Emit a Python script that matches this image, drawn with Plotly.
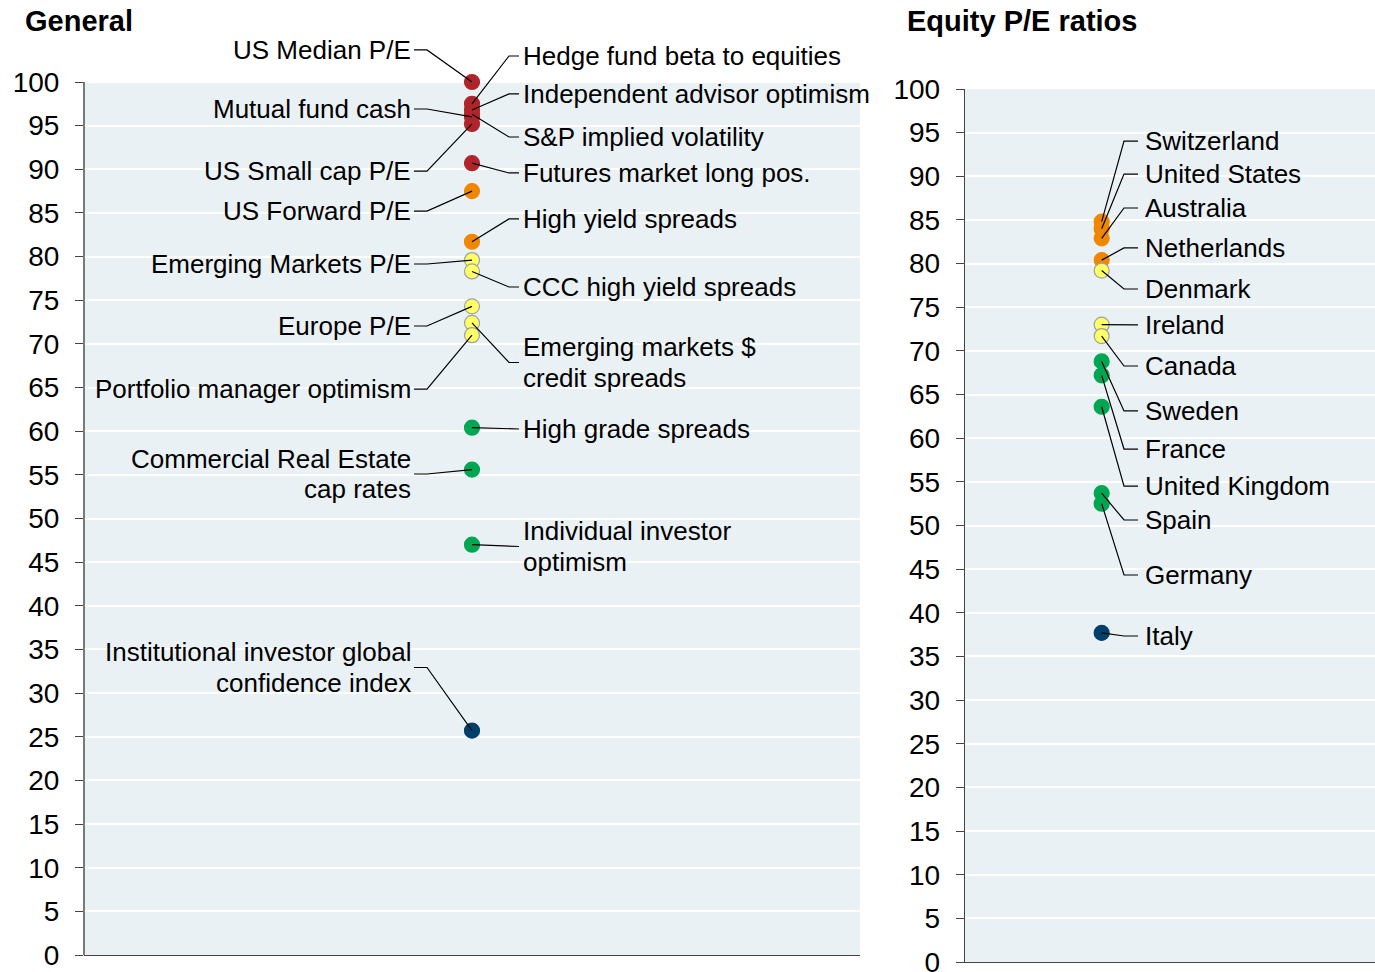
import plotly.graph_objects as go

# ---------------- data ----------------
gen_names = ["US Median P/E", "Hedge fund beta to equities", "Independent advisor optimism",
             "Mutual fund cash", "S&P implied volatility", "US Small cap P/E",
             "Futures market long pos.", "US Forward P/E", "High yield spreads",
             "Emerging Markets P/E", "CCC high yield spreads", "Europe P/E",
             "Emerging markets $\ncredit spreads", "Portfolio manager optimism",
             "High grade spreads", "Commercial Real Estate\ncap rates",
             "Individual investor\noptimism", "Institutional investor global\nconfidence index"]
gen_values = [100.0, 97.5, 96.8, 96.0, 96.3, 95.2, 90.7, 87.5, 81.7, 79.6, 78.3, 74.3,
              72.4, 71.0, 60.4, 55.6, 47.0, 25.7]

pe_names = ["Switzerland", "United States", "Australia", "Netherlands", "Denmark", "Ireland",
            "Canada", "Sweden", "France", "United Kingdom", "Spain", "Germany", "Italy"]
pe_values = [84.8, 84.0, 82.9, 80.4, 79.2, 73.0, 71.7, 68.8, 67.2, 63.6, 53.7, 52.5, 37.7]

y_ticks = list(range(0, 101, 5))

# ---------------- label layout (positions, not data) ----------------
gen_side = ["L", "R", "R", "L", "R", "L", "R", "L", "R", "L", "R", "L", "R", "L", "R", "L", "R", "L"]
gen_label_y = [103.67, 102.98, 98.63, 96.91, 93.70, 89.80, 89.58, 85.22, 84.31, 79.15, 76.52,
               72.05, 67.87, 64.83, 60.25, 55.10, 46.79, 32.93]
pe_label_y = [94.04, 90.26, 86.37, 81.79, 77.09, 72.97, 68.27, 63.12, 58.76, 54.52, 50.63,
              44.33, 37.34]

RED, ORANGE, YELLOW, GREEN, BLUE = "#B0252B", "#F08700", "#FFFF66", "#00A651", "#003F6B"


def color_for(v):
    if v >= 90:
        return RED
    if v >= 80:
        return ORANGE
    if v >= 70:
        return YELLOW
    if v >= 40:
        return GREEN
    return BLUE


FONT = "Liberation Sans, Arial, sans-serif"
FS = 26
TICK_FS = 28
BG = "#EAF1F5"
AX = "#444444"

# figure fills the window exactly (body margin removed by post_script)
OFF = 0
W, H = 1375 - OFF, 972 - OFF


def fx(px):
    return (px - OFF) / W


def fy(py):
    return 1 - (py - OFF) / H


L_X0, L_X1, L_YB = 84, 860, 955
R_X0, R_X1, R_YB, R_YT = 965, 1375, 962, 89
PPU = 8.73  # pixels per y unit
L_TOP = L_YB - 108 * PPU

fig = go.Figure()


def lx(px):
    return (px - L_X0) / (L_X1 - L_X0)


def rx(px):
    return (px - R_X0) / (R_X1 - R_X0)


# markers
for names, vals, xa, ya, xpos in [(gen_names, gen_values, "x", "y", 0.5),
                                  (pe_names, pe_values, "x2", "y2", 1 / 3)]:
    cols = [color_for(v) for v in vals]
    fig.add_trace(go.Scatter(
        x=[xpos] * len(vals), y=vals, mode="markers", xaxis=xa, yaxis=ya,
        text=[n.replace("\n", " ") for n in names], hoverinfo="text+y",
        marker=dict(size=15, color=cols,
                    line=dict(color=["#A0A0A0" if c == YELLOW else c for c in cols], width=1.2)),
        showlegend=False, cliponaxis=False))

annotations = []

# leader lines, general panel
lxs, lys = [], []
for name, v, side, ly in zip(gen_names, gen_values, gen_side, gen_label_y):
    if side == "R":
        lxs += [0.5, lx(509), lx(519), None]
        lys += [v, ly, ly, None]
        tx, anchor = lx(521), "left"
    else:
        lxs += [0.5, lx(427), lx(414), None]
        lys += [v, ly, ly, None]
        tx, anchor = lx(413), "right"
    lines = name.split("\n")
    n = len(lines)
    for i, t in enumerate(lines):
        off = ((n - 1) / 2 - i) * 30.5 / PPU
        annotations.append(dict(x=tx, y=ly + off, xref="x", yref="y", text=t, showarrow=False,
                                xanchor=anchor, yanchor="middle",
                                font=dict(family=FONT, size=FS, color="#000")))
fig.add_trace(go.Scatter(x=lxs, y=lys, mode="lines", xaxis="x", yaxis="y",
                         line=dict(color="#000", width=1.2), hoverinfo="skip", showlegend=False))

# leader lines, P/E panel
rxs, rys = [], []
for name, v, ly in zip(pe_names, pe_values, pe_label_y):
    rxs += [1 / 3, rx(1124), rx(1138), None]
    rys += [v, ly, ly, None]
    annotations.append(dict(x=rx(1143), y=ly, xref="x2", yref="y2", text=name, showarrow=False,
                            xanchor="left", yanchor="middle",
                            font=dict(family=FONT, size=FS, color="#000")))
fig.add_trace(go.Scatter(x=rxs, y=rys, mode="lines", xaxis="x2", yaxis="y2",
                         line=dict(color="#000", width=1.2), hoverinfo="skip", showlegend=False))

# titles
annotations.append(dict(x=fx(23), y=fy(21), xref="paper", yref="paper", text="<b>General</b>",
                        showarrow=False, xanchor="left", yanchor="middle",
                        font=dict(family=FONT, size=29, color="#000")))
annotations.append(dict(x=fx(905), y=fy(21), xref="paper", yref="paper",
                        text="<b>Equity P/E ratios</b>", showarrow=False, xanchor="left",
                        yanchor="middle", font=dict(family=FONT, size=29, color="#000")))

shapes = [
    dict(type="rect", xref="x", yref="y", x0=0, x1=1, y0=0, y1=100, fillcolor=BG,
         line=dict(width=0), layer="below"),
    dict(type="rect", xref="x2", yref="y2", x0=0, x1=1, y0=0, y1=100, fillcolor=BG,
         line=dict(width=0), layer="below"),
    dict(type="line", xref="paper", yref="y", x0=fx(L_X0), x1=fx(L_X0), y0=0, y1=100,
         line=dict(color=AX, width=1.4)),
]

yax_common = dict(tickmode="array", tickvals=y_ticks, ticks="outside", ticklen=8,
                  tickcolor=AX, tickwidth=1.3, showgrid=True, gridcolor="white", gridwidth=1.5,
                  zeroline=False, ticklabelstandoff=10, automargin=False,
                  ticklabeloverflow="allow",
                  tickfont=dict(family=FONT, size=TICK_FS, color="#000"), fixedrange=True)
xax_common = dict(range=[0, 1], showgrid=False, zeroline=False, showticklabels=False,
                  showline=True, linecolor=AX, linewidth=1.4, ticks="", fixedrange=True,
                  automargin=False)

fig.update_layout(
    template="none",
    width=W, height=H,
    margin=dict(l=0, r=0, t=0, b=0, pad=0),
    paper_bgcolor="white", plot_bgcolor="white",
    font=dict(family=FONT, size=FS, color="#000"),
    xaxis=dict(domain=[fx(L_X0), fx(L_X1)], anchor="y", **xax_common),
    yaxis=dict(domain=[fy(L_YB), fy(L_TOP)], range=[0, 108], anchor="x",
               showline=False, **yax_common),
    xaxis2=dict(domain=[fx(R_X0), min(1.0, fx(R_X1))], anchor="y2", **xax_common),
    yaxis2=dict(domain=[fy(R_YB), fy(R_YT)], range=[0, 100], anchor="x2",
                showline=True, linecolor=AX, linewidth=1.4, **yax_common),
    annotations=annotations,
    shapes=shapes,
    showlegend=False,
)

fig.write_html("out.html", config={"displayModeBar": False},
               post_script="document.body.style.margin='0';document.body.style.overflow='hidden';")
